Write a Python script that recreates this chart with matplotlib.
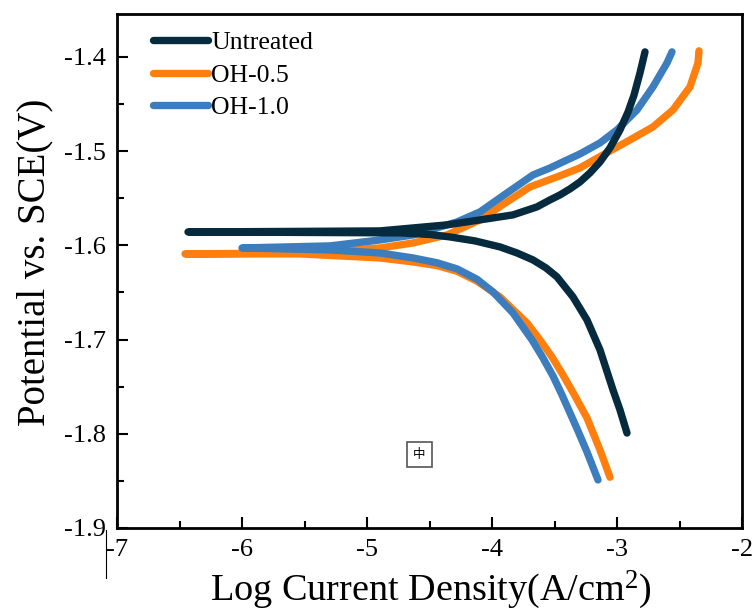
import matplotlib
matplotlib.use("Agg")
import matplotlib.pyplot as plt
from matplotlib.lines import Line2D
from matplotlib.ticker import MultipleLocator

plt.rcParams['font.family'] = ['Liberation Serif', 'DejaVu Serif']
plt.rcParams['mathtext.fontset'] = 'custom'
plt.rcParams['mathtext.rm'] = 'Liberation Serif'
plt.rcParams['mathtext.it'] = 'Liberation Serif:italic'

labels = ["Untreated", "OH-0.5", "OH-1.0"]
colors = ["#062a3e", "#ff7f0e", "#3b7dbd"]

# Untreated: cathodic branch (from left end down) and anodic branch (from left end up)
unt_cat_x = [-6.432, -5.536, -4.736, -4.496, -4.336, -4.136, -3.936, -3.800, -3.672, -3.568, -3.480, -3.352, -3.240, -3.136, -3.032, -2.976, -2.920]
unt_cat_y = [-1.5858, -1.5863, -1.5868, -1.5885, -1.5911, -1.5953, -1.6017, -1.6081, -1.6155, -1.6240, -1.6335, -1.6548, -1.6792, -1.7110, -1.7535, -1.7747, -1.7992]
unt_an_x = [-6.432, -5.536, -4.896, -4.360, -4.096, -3.832, -3.640, -3.536, -3.456, -3.376, -3.296, -3.216, -3.136, -3.056, -2.976, -2.912, -2.864, -2.816, -2.776]
unt_an_y = [-1.5858, -1.5852, -1.5847, -1.5783, -1.5730, -1.5677, -1.5592, -1.5518, -1.5465, -1.5401, -1.5327, -1.5231, -1.5115, -1.4966, -1.4775, -1.4586, -1.4406, -1.4170, -1.3947]

# OH-0.5
oh05_cat_x = [-6.456, -5.536, -4.896, -4.632, -4.440, -4.280, -4.120, -3.936, -3.720, -3.616, -3.520, -3.432, -3.336, -3.240, -3.136, -3.056]
oh05_cat_y = [-1.6091, -1.6091, -1.6134, -1.6176, -1.6215, -1.6275, -1.6380, -1.6548, -1.6824, -1.7004, -1.7185, -1.7376, -1.7599, -1.7832, -1.8172, -1.8461]
oh05_an_x = [-6.456, -5.536, -4.896, -4.632, -4.360, -4.096, -3.880, -3.696, -3.480, -3.296, -3.112, -2.896, -2.712, -2.552, -2.416, -2.352, -2.344]
oh05_an_y = [-1.6091, -1.6081, -1.6028, -1.5975, -1.5890, -1.5730, -1.5539, -1.5380, -1.5274, -1.5178, -1.5040, -1.4881, -1.4743, -1.4563, -1.4318, -1.4064, -1.3936]

# OH-1.0
oh10_cat_x = [-6.000, -5.296, -4.896, -4.632, -4.440, -4.280, -4.120, -3.992, -3.832, -3.680, -3.592, -3.512, -3.440, -3.376, -3.312, -3.240, -3.152]
oh10_cat_y = [-1.6028, -1.6049, -1.6081, -1.6134, -1.6185, -1.6250, -1.6360, -1.6495, -1.6718, -1.7004, -1.7196, -1.7387, -1.7588, -1.7779, -1.7970, -1.8193, -1.8490]
oh10_an_x = [-6.000, -5.296, -4.896, -4.632, -4.280, -4.096, -3.880, -3.672, -3.536, -3.416, -3.296, -3.136, -3.000, -2.840, -2.712, -2.600, -2.560]
oh10_an_y = [-1.6028, -1.6006, -1.5943, -1.5890, -1.5752, -1.5645, -1.5444, -1.5253, -1.5179, -1.5104, -1.5030, -1.4913, -1.4775, -1.4563, -1.4318, -1.4064, -1.3947]

xticks = [-7, -6, -5, -4, -3, -2]
yticks = [-1.9, -1.8, -1.7, -1.6, -1.5, -1.4]

fig = plt.figure(figsize=(7.56, 6.11), dpi=100)
ax = fig.add_axes([117/756, 1-528/611, 625/756, 514/611])

series = [
    (unt_cat_x, unt_cat_y, unt_an_x, unt_an_y),
    (oh05_cat_x, oh05_cat_y, oh05_an_x, oh05_an_y),
    (oh10_cat_x, oh10_cat_y, oh10_an_x, oh10_an_y),
]
order = [1, 2, 0]
handles = {}
for i in order:
    cx, cy, axx, ayy = series[i]
    px = cx[::-1] + axx
    py = cy[::-1] + ayy
    ln, = ax.plot(px, py, color=colors[i], lw=5.3, solid_capstyle='round',
                  solid_joinstyle='round', label=labels[i], zorder=3 + (i == 0))
    handles[i] = ln

ax.set_xlim(-7, -2)
ax.set_ylim(-1.9, -1.3545)
ax.set_xticks(xticks)
ax.set_xticklabels([f"{t:g}" for t in xticks])
ax.set_yticks(yticks)
ax.set_yticklabels([f"{t:.1f}" for t in yticks])
ax.xaxis.set_minor_locator(MultipleLocator(0.5))
ax.yaxis.set_minor_locator(MultipleLocator(0.05))
ax.tick_params(which='both', direction='in', top=False, right=False, width=1.5, labelsize=19, pad=8)
ax.tick_params(which='major', length=8)
ax.tick_params(which='minor', length=5)
for s in ax.spines.values():
    s.set_linewidth(2)

leg = ax.legend([handles[0], handles[1], handles[2]], labels, loc='upper left',
                bbox_to_anchor=(36/625, 1-17/514), frameon=False, fontsize=18.5,
                handlelength=2.15, handletextpad=0.12, labelspacing=0.38,
                borderpad=0, borderaxespad=0)

fig.text(35/756, 1-262/611, "Potential vs. SCE(V)", rotation=90, ha='center', va='center', fontsize=28)
fig.text(431/756, 1-590/611, "Log Current Density(A/cm$^2$)", ha='center', va='center', fontsize=27.5)

ax.text(0.4832, 0.143, "中", transform=ax.transAxes, ha='center', va='center',
        fontsize=9, family=['Noto Sans CJK SC', 'DejaVu Sans'],
        bbox=dict(boxstyle='square,pad=0.5', fc='white', ec='#555555', lw=1.2))

fig.add_artist(Line2D([106/756, 106/756], [1-530/611, 1-578/611], color='black', lw=0.8))

fig.savefig("out.png", dpi=100)
